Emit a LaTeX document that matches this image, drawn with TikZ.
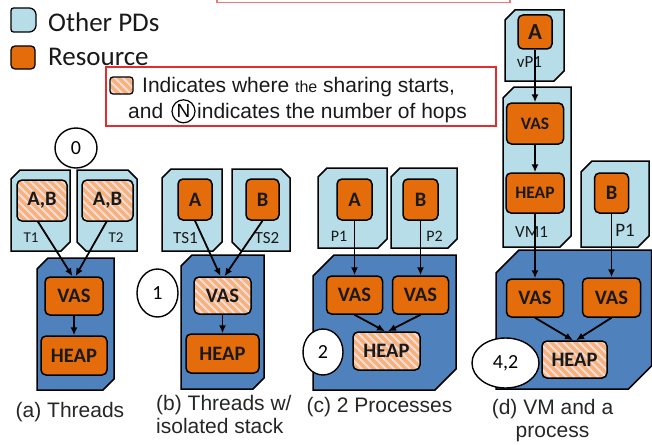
\documentclass[tikz,border=0pt]{standalone}
\usepackage{fontspec}
\setmainfont{Liberation Sans}
\newfontfamily\carl{Carlito}
\usetikzlibrary{arrows.meta,shapes.geometric}
\definecolor{pdblue}{RGB}{183,221,232}
\definecolor{kblue}{RGB}{79,129,189}
\definecolor{orng}{RGB}{228,108,10}
\definecolor{hbg}{RGB}{242,220,219}
\definecolor{hstripe}{RGB}{247,178,122}
\definecolor{redline}{RGB}{225,45,45}
\definecolor{redlight}{RGB}{242,120,120}
% snipped rectangles: x1,y1,x2,y2,cut
\newcommand\snipA[5]{({#1+#5},#2) -- (#3,#2) -- (#3,{#4-#5}) -- ({#3-#5},#4) -- (#1,#4) -- (#1,{#2+#5}) -- cycle}
\newcommand\snipB[5]{(#1,#2) -- ({#3-#5},#2) -- (#3,{#2+#5}) -- (#3,#4) -- ({#1+#5},#4) -- (#1,{#4-#5}) -- cycle}
\begin{document}
\begin{tikzpicture}[x=1pt,y=-1pt,
  pd/.style={draw=black, line width=1.5pt, fill=pdblue},
  kern/.style={draw=black, line width=1.5pt, fill=kblue},
  res/.style={draw=black, line width=1.5pt, fill=orng, rounded corners=5pt, inner sep=0pt, text=black!90,
    font=\carl\bfseries\fontsize{20.5}{22}\selectfont},
  shared/.style={res, fill=hbg, path picture={
      \foreach \k in {-7,...,10}{
        \draw[hstripe, line width=3.2pt] ([xshift={\k*8pt}]path picture bounding box.north west) -- ++(60pt,-60pt);
      }}},
  hop/.style={ellipse, draw=black, line width=1.4pt, fill=white, inner sep=0pt,
    font=\carl\fontsize{20}{22}\selectfont},
  lbl/.style={inner sep=0pt, text=black!90, font=\carl\fontsize{16}{18}\selectfont},
  captxt/.style={inner sep=0pt, text=black!85, font=\fontsize{21}{23.5}\selectfont},
  leg/.style={inner sep=0pt, anchor=base west, text=black!90, font=\fontsize{21}{23}\selectfont},
  arr/.style={-{Latex[length=8pt,width=7pt]}, line width=1.8pt},
]
\useasboundingbox (0,0) rectangle (652,444);
\clip (0,0) rectangle (652,444);

% partial box at top
\draw[redlight, line width=1.2pt] (217,-6) rectangle (510,2.5);

% ---------------- legend ----------------
\draw[pd, line width=1.3pt, rounded corners=2.5pt] (11,8) -- (32,8) -- (36,12) -- (36,28) -- (32,32) -- (11,32) -- cycle;
\node[res, line width=1.3pt, rounded corners=4pt, minimum width=24pt, minimum height=23pt] (resicon) at (23,57.5) {};
\node[anchor=base west, inner sep=0pt, text=black!90, font=\carl\fontsize{27}{30}\selectfont] (lpd) at (48,31) {Other PDs};
\node[anchor=base west, inner sep=0pt, text=black!90, font=\carl\fontsize{27}{30}\selectfont] (lres) at (48,65) {Resource};

\node[draw=redline, line width=1.2pt, minimum width=390pt, minimum height=59pt, inner sep=0pt] (legbox) at (301,96.5) {};
\node[shared, line width=1.3pt, rounded corners=3pt, minimum width=23pt, minimum height=17pt] (shicon) at (121.5,85.5) {};
\node[leg] (l1) at (142,92.3) {Indicates where {\fontsize{16}{18}\selectfont the} sharing starts,};
\node[leg] (l2a) at (128,118.3) {and};
\node[circle, draw=black, line width=1.2pt, minimum size=23pt, inner sep=0pt, font=\fontsize{19}{21}\selectfont] (lN) at (183.5,111.3) {N};
\node[leg] (l2b) at (197,118.3) {indicates the number of hops};

% ---------------- (a) Threads ----------------
\draw[pd] \snipA{11}{170}{70}{251}{9};
\draw[pd] \snipB{77}{170}{137}{251}{9};
\draw[kern] \snipA{37}{258}{114}{390}{11};
\node[shared, minimum width=50pt, minimum height=41pt] (abA) at (42,200.5) {A,B};
\node[shared, minimum width=51pt, minimum height=41pt] (abB) at (107.5,200.5) {A,B};
\node[lbl, font=\carl\fontsize{15}{17}\selectfont] (t1) at (31,238) {T1};
\node[lbl, font=\carl\fontsize{15}{17}\selectfont] (t2) at (116,238) {T2};
\node[res, minimum width=58pt, minimum height=38pt] (vasA) at (74,296) {VAS};
\node[res, minimum width=66pt, minimum height=39pt] (heapA) at (74,355.5) {HEAP};
\node[hop, minimum width=42pt, minimum height=40pt] (h0) at (76,148) {0};
\draw[arr] ([xshift=-4pt]abA.south) -- ([xshift=-1.5pt]vasA.north);
\draw[arr] ([xshift=-1pt]abB.south) -- ([xshift=1.5pt]vasA.north);
\draw[arr] (vasA.south) -- (heapA.north);
\node[captxt] (capa) at (70,412) {(a) Threads};

% ---------------- (b) Threads w/ isolated stack ----------------
\draw[pd] \snipA{162}{169}{222}{251}{9};
\draw[pd] \snipB{232}{169}{290}{251}{9};
\draw[kern] \snipA{181}{255}{264}{389}{11};
\node[res, minimum width=34pt, minimum height=41pt] (Ab) at (195,199.5) {A};
\node[res, minimum width=33pt, minimum height=41pt] (Bb) at (262.5,199.5) {B};
\node[lbl, font=\carl\fontsize{17}{19}\selectfont] (ts1) at (185.5,238) {TS1};
\node[lbl, font=\carl\fontsize{17}{19}\selectfont] (ts2) at (267,238) {TS2};
\node[shared, minimum width=57pt, minimum height=37pt] (vasB) at (222.5,295.5) {VAS};
\node[res, minimum width=73pt, minimum height=39pt] (heapB) at (222.5,353.5) {HEAP};
\node[hop, minimum width=41pt, minimum height=48pt] (h1) at (157.5,293) {1};
\draw[arr] (Ab.south) -- ([xshift=-2pt]vasB.north);
\draw[arr] (Bb.south) -- ([xshift=2pt]vasB.north);
\draw[arr] (vasB.south) -- (heapB.north);
\node[captxt, anchor=north west, align=left] (capb) at (156,395) {(b) Threads w/\\isolated stack};

% ---------------- (c) 2 Processes ----------------
\draw[pd] \snipA{318}{168}{387}{248}{9};
\draw[pd] \snipA{391}{168}{457}{248}{9};
\draw[kern] \snipA{313}{255}{456}{390}{21};
\node[res, minimum width=35pt, minimum height=41pt] (Ac) at (354.5,199.5) {A};
\node[res, minimum width=35pt, minimum height=41pt] (Bc) at (420.5,199.5) {B};
\node[lbl] (p1c) at (339,236) {P1};
\node[lbl] (p2c) at (434.5,236) {P2};
\node[res, minimum width=56pt, minimum height=38pt] (vas1c) at (354.5,295) {VAS};
\node[res, minimum width=56pt, minimum height=38pt] (vas2c) at (420.5,295) {VAS};
\node[shared, minimum width=67pt, minimum height=38pt] (heapc) at (386.5,351) {HEAP};
\node[hop, minimum width=40pt, minimum height=46pt] (h2) at (323,352) {2};
\draw[arr] (Ac.south) -- (vas1c.north);
\draw[arr] (Bc.south) -- (vas2c.north);
\draw[arr] (vas1c.south) -- ([xshift=-1.5pt]heapc.north);
\draw[arr] (vas2c.south) -- ([xshift=1.5pt]heapc.north);
\node[captxt] (capc) at (379.5,407) {(c) 2 Processes};

% ---------------- (d) VM and a process ----------------
\draw[pd] \snipA{505}{10}{564}{81}{10};
\draw[pd] \snipA{503}{87}{571}{247}{11};
\draw[pd] \snipA{581}{161}{649}{247}{11};
\draw[kern] \snipA{496}{250}{651.5}{389}{23};
\node[res, minimum width=34pt, minimum height=34pt, font=\carl\bfseries\fontsize{23}{25}\selectfont] (Ad) at (535,32) {A};
\node[lbl, font=\carl\fontsize{17}{19}\selectfont] (vp1) at (529.5,62) {vP1};
\node[res, minimum width=57pt, minimum height=41pt, font=\carl\bfseries\fontsize{17.5}{20}\selectfont] (vasvm) at (535,123.5) {VAS};
\node[res, minimum width=58pt, minimum height=40pt, font=\carl\bfseries\fontsize{17.5}{20}\selectfont] (heapvm) at (535,193) {HEAP};
\node[lbl, font=\carl\fontsize{17}{19}\selectfont] (vm1) at (531.5,232) {VM1};
\node[res, minimum width=34pt, minimum height=40pt] (Bd) at (611.5,193) {B};
\node[lbl, font=\carl\fontsize{19}{21}\selectfont] (p1d) at (625,230) {P1};
\node[res, minimum width=57pt, minimum height=38pt] (vas1d) at (535,298) {VAS};
\node[res, minimum width=58pt, minimum height=39pt] (vas2d) at (611.5,297.5) {VAS};
\node[shared, minimum width=65pt, minimum height=37pt] (heapd) at (574.5,359.5) {HEAP};
\node[hop, minimum width=67pt, minimum height=50pt] (h42) at (505.5,363) {4,2};
\draw[arr] (Ad.south) -- (vasvm.north);
\draw[arr] (vasvm.south) -- (heapvm.north);
\draw[arr] (heapvm.south) -- (vas1d.north);
\draw[arr] (Bd.south) -- (vas2d.north);
\draw[arr] (vas1d.south) -- ([xshift=-1.5pt]heapd.north);
\draw[arr] (vas2d.south) -- ([xshift=1.5pt]heapd.north);
\node[captxt, anchor=north, align=center] (capd) at (552.5,399) {(d) VM and a\\process};
\end{tikzpicture}
\end{document}
